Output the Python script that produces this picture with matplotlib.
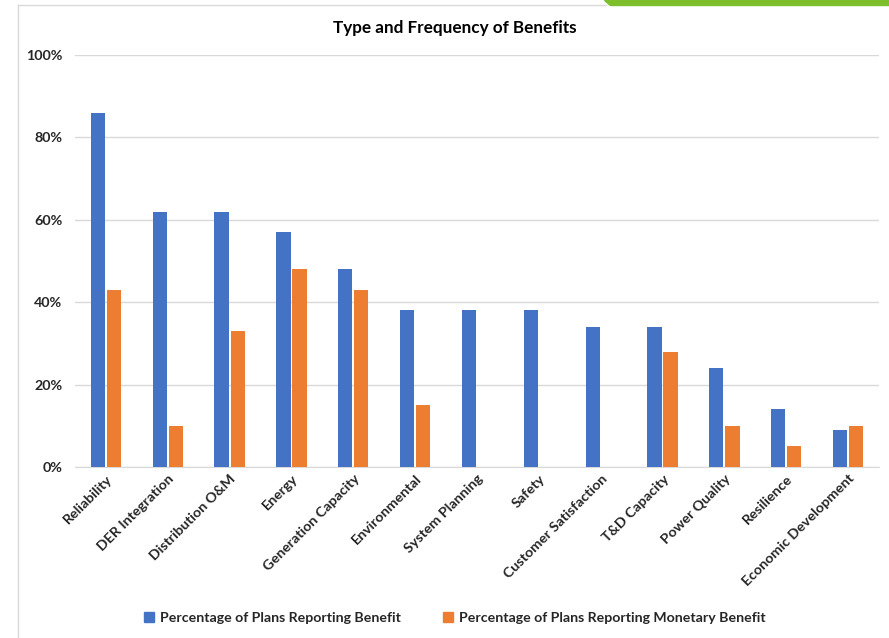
import matplotlib
matplotlib.use("Agg")
import matplotlib.pyplot as plt
import numpy as np
from matplotlib.patches import Polygon
from matplotlib.lines import Line2D

categories = ["Reliability", "DER Integration", "Distribution O&M", "Energy",
              "Generation Capacity", "Environmental", "System Planning", "Safety",
              "Customer Satisfaction", "T&D Capacity", "Power Quality", "Resilience",
              "Economic Development"]
benefit = [86, 62, 62, 57, 48, 38, 38, 38, 34, 34, 24, 14, 9]
monetary = [43, 10, 33, 48, 43, 15, 0, 0, 0, 28, 10, 5, 10]
yticks = [0, 20, 40, 60, 80, 100]
ytick_labels = ["0%", "20%", "40%", "60%", "80%", "100%"]

plt.rcParams['font.family'] = ['Lato', 'DejaVu Sans']

fig = plt.figure(figsize=(8.89, 6.38), dpi=100)
W, H = 889, 638
ax = fig.add_axes([75/W, 1-467/H, (879-75)/W, (467-55)/H])

x = np.arange(len(categories))
bw = 0.23
gap = 0.03
blue = "#4472C4"
orange = "#ED7D31"
ax.bar(x - bw/2 - gap/2, benefit, bw, color=blue, label="Percentage of Plans Reporting Benefit", zorder=3)
ax.bar(x + bw/2 + gap/2, monetary, bw, color=orange, label="Percentage of Plans Reporting Monetary Benefit", zorder=3)

ax.set_xlim(-0.5, len(categories) - 0.5)
ax.set_ylim(0, 100)
ax.set_yticks(yticks)
ax.set_yticklabels(ytick_labels, fontsize=10.3, fontweight='bold', color="#262626")
ax.yaxis.grid(True, color="#D9D9D9", linewidth=1, zorder=0)
ax.set_axisbelow(True)
for s in ["top", "right", "left"]:
    ax.spines[s].set_visible(False)
ax.spines["bottom"].set_color("#D9D9D9")
ax.tick_params(axis='y', length=0, pad=9)
ax.tick_params(axis='x', length=0, pad=4)
ax.set_xticks(x)
ax.set_xticklabels(categories, rotation=45, ha='right', rotation_mode='anchor',
                   fontsize=10.3, fontweight='bold', color="#262626")

fig.text(455/W, 1-28/H, "Type and Frequency of Benefits", ha='center', va='center',
         fontsize=12.3, fontweight='bold', color="#000000")

handles = [plt.Rectangle((0, 0), 1, 1, color=blue), plt.Rectangle((0, 0), 1, 1, color=orange)]
fig.legend(handles, ["Percentage of Plans Reporting Benefit", "Percentage of Plans Reporting Monetary Benefit"],
           loc='center', bbox_to_anchor=(455/W, 1-618/H), ncol=2, frameon=False,
           prop={'weight': 'bold', 'size': 10.2}, handlelength=0.7, handleheight=0.7,
           handletextpad=0.4, columnspacing=3.0, labelcolor="#262626")

# border lines and green accent
fig.add_artist(Line2D([18/W, 18/W], [0, 1-5/H], color="#D9D9D9", linewidth=1, transform=fig.transFigure))
fig.add_artist(Line2D([18/W, 606/W], [1-5/H, 1-5/H], color="#D9D9D9", linewidth=1, transform=fig.transFigure))
fig.add_artist(Polygon([[604/W, 1], [889/W, 1], [889/W, 1-5/H], [610/W, 1-5/H]],
                       closed=True, color="#7CBF2A", transform=fig.transFigure))

fig.savefig("out.png", dpi=100)
